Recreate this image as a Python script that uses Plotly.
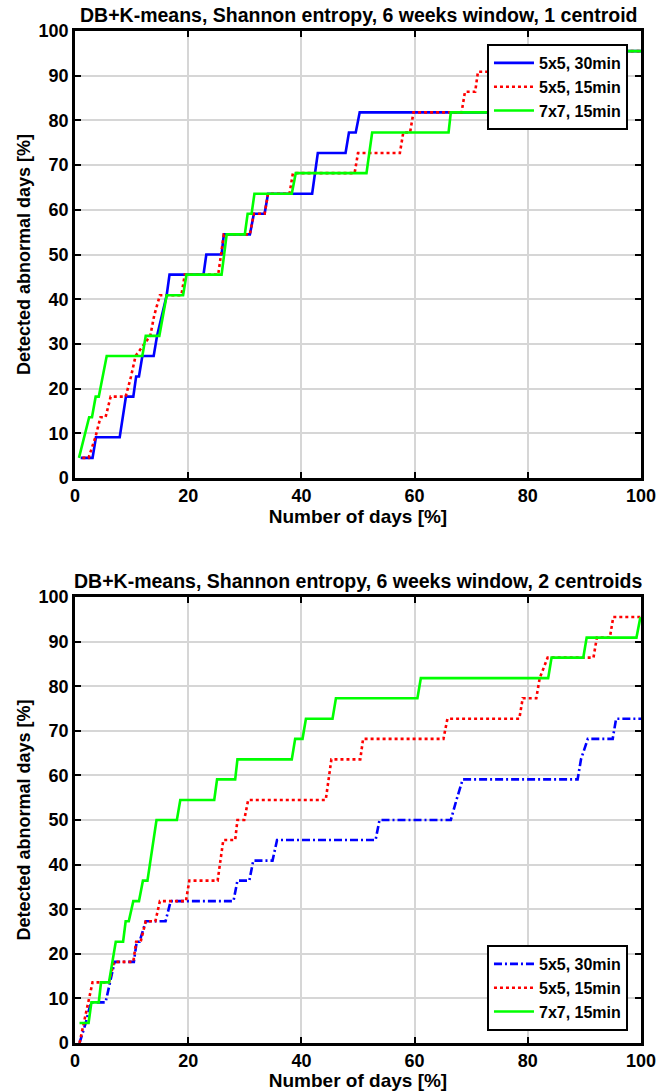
import plotly.graph_objects as go

# ---------------- data ----------------
series_names = ["5x5, 30min", "5x5, 15min", "7x7, 15min"]

# Top panel: 1 centroid
top_blue_x = [1, 3.1, 3.7, 7.9, 9.0, 10.3, 10.8, 11.3, 11.9, 13.9, 14.5, 15.3, 16.2, 16.7,
              22.7, 23.2, 25.9, 26.3, 30.9, 31.6, 33.5, 34.1, 41.9, 42.9, 47.8, 48.4,
              49.6, 50.3, 76.6, 77.4, 84.0, 84.8, 91.0, 91.8, 100]
top_blue_y = [4.5, 4.5, 9.1, 9.1, 18.2, 18.2, 22.7, 22.7, 27.3, 27.3, 31.8, 36.4, 40.9, 45.5,
              45.5, 50.0, 50.0, 54.5, 54.5, 59.1, 59.1, 63.6, 63.6, 72.7, 72.7, 77.3,
              77.3, 81.8, 81.8, 86.4, 86.4, 90.9, 90.9, 95.5, 95.5]

top_red_x = [1.3, 2.4, 3.6, 4.5, 5.4, 6.3, 8.95, 9.9, 10.7, 13.3, 14.0, 15.0, 18.8, 19.4,
             25.3, 25.8, 26.3, 30.9, 31.6, 33.5, 34.1, 37.9, 38.5, 49.4, 50.0, 57.4,
             58.0, 59.2, 59.8, 68.3, 68.9, 70.7, 71.2, 80.0, 80.8, 100]
top_red_y = [4.5, 4.5, 9.1, 13.6, 13.6, 18.2, 18.2, 22.7, 27.3, 31.8, 36.4, 40.9, 40.9, 45.5,
             45.5, 50.0, 54.5, 54.5, 59.1, 59.1, 63.6, 63.6, 68.2, 68.2, 72.7, 72.7,
             77.3, 77.3, 81.8, 81.8, 86.4, 86.4, 90.9, 90.9, 95.5, 95.5]

top_green_x = [0.7, 2.5, 3.0, 3.65, 4.2, 5.6, 11.9, 12.5, 14.9, 16.2, 19.1, 19.7, 25.9,
               26.8, 30.0, 30.5, 31.2, 31.7, 38.3, 39.0, 51.5, 52.5, 66.0, 66.4, 76.1,
               77.0, 87.0, 87.8, 95.0, 95.8, 100]
top_green_y = [4.5, 13.6, 13.6, 18.2, 18.2, 27.3, 27.3, 31.8, 31.8, 40.9, 40.9, 45.5, 45.5,
               54.5, 54.5, 59.1, 59.1, 63.6, 63.6, 68.2, 68.2, 77.3, 77.3, 81.8, 81.8,
               86.4, 86.4, 90.9, 90.9, 95.5, 95.5]

# Bottom panel: 2 centroids
bot_blue_x = [0.8, 1.9, 2.8, 5.4, 7.0, 10.4, 10.9, 11.4, 12.5, 16.0, 16.9, 28.0, 28.7,
              30.8, 31.5, 34.9, 35.7, 53.1, 53.8, 66.4, 67.4, 68.5, 88.8, 89.4, 90.6,
              95.0, 95.6, 100]
bot_blue_y = [0.0, 4.5, 9.1, 9.1, 18.2, 18.2, 22.7, 22.7, 27.3, 27.3, 31.8, 31.8, 36.4,
              36.4, 40.9, 40.9, 45.5, 45.5, 50.0, 50.0, 54.5, 59.1, 59.1, 63.6, 68.2,
              68.2, 72.7, 72.7]

bot_red_x = [0.8, 1.6, 3.1, 6.0, 6.9, 10.3, 10.8, 11.6, 12.5, 14.2, 15.0, 19.6, 20.2,
             25.2, 26.2, 28.3, 28.7, 29.9, 30.6, 44.3, 45.3, 50.4, 50.9, 65.1, 65.8,
             78.5, 79.1, 81.5, 82.1, 83.5, 91.6, 92.2, 94.5, 95.1, 100]
bot_red_y = [0.0, 4.5, 13.6, 13.6, 18.2, 18.2, 22.7, 22.7, 27.3, 27.3, 31.8, 31.8, 36.4,
             36.4, 45.5, 45.5, 50.0, 50.0, 54.5, 54.5, 63.6, 63.6, 68.2, 68.2, 72.7,
             72.7, 77.3, 77.3, 81.8, 86.4, 86.4, 90.9, 90.9, 95.5, 95.5]

bot_green_x = [0.8, 2.4, 2.9, 4.2, 4.6, 6.0, 7.2, 8.5, 8.95, 9.5, 10.3, 11.3, 12.0, 12.8,
               14.4, 18.0, 18.6, 24.6, 25.1, 28.3, 28.7, 38.3, 38.9, 40.2, 40.8, 45.5,
               46.1, 60.5, 61.1, 83.6, 84.2, 89.8, 90.4, 99.2, 99.9]
bot_green_y = [4.5, 4.5, 9.1, 9.1, 13.6, 13.6, 22.7, 22.7, 27.3, 27.3, 31.8, 31.8, 36.4,
               36.4, 50.0, 50.0, 54.5, 54.5, 59.1, 59.1, 63.6, 63.6, 68.2, 68.2, 72.7,
               72.7, 77.3, 77.3, 81.8, 81.8, 86.4, 86.4, 90.9, 90.9, 95.5]

titles = ["DB+K-means, Shannon entropy, 6 weeks window, 1 centroid",
          "DB+K-means, Shannon entropy, 6 weeks window, 2 centroids"]
x_label = "Number of days [%]"
y_label = "Detected abnormal days [%]"
x_ticks = [0, 20, 40, 60, 80, 100]
y_ticks = [0, 10, 20, 30, 40, 50, 60, 70, 80, 90, 100]

# ---------------- figure ----------------
FONT = "Liberation Sans, Arial, sans-serif"
BLUE, RED, GREEN = "#0000ff", "#ff0000", "#00ff00"
LW = 2.6

fig = go.Figure()

top_series = [(top_blue_x, top_blue_y, BLUE, "solid"),
              (top_red_x, top_red_y, RED, "dot"),
              (top_green_x, top_green_y, GREEN, "solid")]
bot_series = [(bot_blue_x, bot_blue_y, BLUE, "8px,3px,2px,3px"),
              (bot_red_x, bot_red_y, RED, "dot"),
              (bot_green_x, bot_green_y, GREEN, "solid")]

for name, (xs, ys, col, dash) in zip(series_names, top_series):
    fig.add_trace(go.Scatter(x=xs, y=ys, mode="lines", name=name,
                             line=dict(color=col, width=LW, dash=dash),
                             xaxis="x", yaxis="y", legend="legend"))
for name, (xs, ys, col, dash) in zip(series_names, bot_series):
    fig.add_trace(go.Scatter(x=xs, y=ys, mode="lines", name=name,
                             line=dict(color=col, width=LW, dash=dash),
                             xaxis="x2", yaxis="y2", legend="legend2"))

axis_common = dict(
    showline=True, linewidth=2.5, linecolor="black", mirror="ticks",
    ticks="inside", ticklen=6, tickwidth=2, tickcolor="black",
    showgrid=True, gridcolor="#d6d6d6", gridwidth=1.6,
    zeroline=False, automargin=False,
    tickfont=dict(family=FONT, size=18, color="black", weight="bold"),
)

xcommon = dict(axis_common, range=[0, 100], tickvals=x_ticks,
               ticktext=[str(v) for v in x_ticks],
               title=dict(text=x_label, standoff=4,
                          font=dict(family=FONT, size=19, color="black", weight="bold")))
ycommon = dict(axis_common, range=[0, 100], tickvals=y_ticks,
               ticktext=[str(v) for v in y_ticks],
               title=dict(text=y_label, standoff=4,
                          font=dict(family=FONT, size=18, color="black", weight="bold")))

H = 1091
top_px, bottom_px = 31, 1043
span = bottom_px - top_px

def frac(py):
    return (bottom_px - py) / span

legend_style = dict(bgcolor="white", bordercolor="black", borderwidth=2,
                    font=dict(family=FONT, size=16, color="black", weight="bold"),
                    tracegroupgap=0, itemwidth=40)

fig.update_layout(
    width=671, height=H,
    margin=dict(l=75, r=30, t=top_px, b=H - bottom_px),
    paper_bgcolor="white", plot_bgcolor="white",
    font=dict(family=FONT, color="black"),
    xaxis=dict(xcommon, domain=[0, 1], anchor="y"),
    yaxis=dict(ycommon, domain=[frac(478), 1.0], anchor="x"),
    xaxis2=dict(xcommon, domain=[0, 1], anchor="y2"),
    yaxis2=dict(ycommon, domain=[0.0, frac(597)], anchor="x2"),
    legend=dict(legend_style, x=0.977, y=frac(44), xanchor="right", yanchor="top"),
    legend2=dict(legend_style, x=0.977, y=frac(1031), xanchor="right", yanchor="bottom"),
    showlegend=True,
)

for t, py in zip(titles, [15, 581]):
    fig.add_annotation(text=t, xref="paper", yref="paper", x=0.5, y=frac(py),
                       xanchor="center", yanchor="middle", showarrow=False,
                       font=dict(family=FONT, size=19.5, color="black", weight="bold"))

# remove the browser's default 8px page margin so the figure sits at the page origin
fig.write_html("out.html",
               config={"displayModeBar": False},
               post_script="document.body.style.margin='0px';"
                           "document.body.style.overflow='hidden';")
